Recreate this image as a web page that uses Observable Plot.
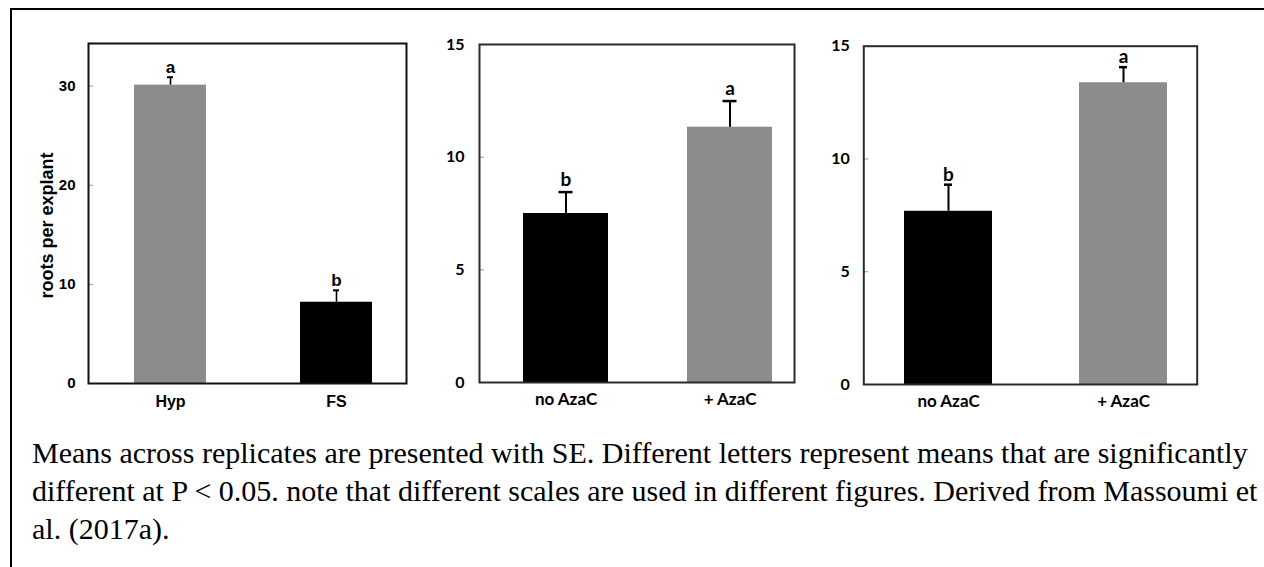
<!DOCTYPE html>
<html>
<head>
<meta charset="utf-8">
<script src="https://cdn.jsdelivr.net/npm/d3@7"></script>
<script src="https://cdn.jsdelivr.net/npm/@observablehq/plot@0.6"></script>
<style>
  html, body { margin: 0; padding: 0; background: #fff; }
  body { width: 1264px; height: 567px; position: relative; overflow: hidden; }
  #box { position: absolute; left: 10px; top: 8px; width: 1300px; height: 600px;
         border-top: 2px solid #000; border-left: 2px solid #000; }
  .panel { position: absolute; top: 0; }
  #caption { position: absolute; left: 32px; top: 434px; width: 1234px;
             font-family: "Liberation Serif", "Times New Roman", serif; font-size: 30px;
             line-height: 38px; color: #000; white-space: normal; }
</style>
</head>
<body>
<div id="box"></div>
<div id="p1" class="panel" style="left:0px"></div>
<div id="p2" class="panel" style="left:420px"></div>
<div id="p3" class="panel" style="left:820px"></div>
<div id="caption">Means across replicates are presented with SE. Different letters represent means that are significantly different at P &lt; 0.05. note that different scales are used in different figures. Derived from Massoumi et al. (2017a).</div>
<script>
// ---- data ----
const p1Categories = ["Hyp", "FS"];
const p1Means = [30.1, 8.2];
const p1SE = [0.8, 1.2];
const p1Letters = ["a", "b"];
const p1Ticks = [0, 10, 20, 30];
const p1YLabel = "roots per explant";

const p2Categories = ["no AzaC", "+ AzaC"];
const p2Means = [7.5, 11.33];
const p2SE = [0.95, 1.16];
const p2Letters = ["b", "a"];
const p2Ticks = [0, 5, 10, 15];

const p3Categories = ["no AzaC", "+ AzaC"];
const p3Means = [7.68, 13.38];
const p3SE = [1.18, 0.69];
const p3Letters = ["b", "a"];
const p3Ticks = [0, 5, 10, 15];

const GRAY = "#8c8c8c";

function panel(o) {
  const data = o.cats.map((c, i) => ({cat: c, mean: o.means[i], se: o.se[i], top: o.means[i] + o.se[i], letter: o.letters[i]}));
  const fw = o.width - o.ml - o.mr;
  const marks = [
    Plot.barY(data, {x: "cat", y: "mean", fill: "cat"}),
    Plot.ruleX(data, {x: "cat", y1: "mean", y2: "top", stroke: "#000", strokeWidth: o.stemW}),
    Plot.tickY(data, {x: "cat", y: "top", stroke: "#000", strokeWidth: o.capW, insetLeft: o.capInset, insetRight: o.capInset}),
    Plot.text(data, {x: "cat", y: "top", text: "letter", dy: -o.letterGap, lineAnchor: "bottom", fontSize: o.letterSize, fontWeight: "bold"}),
    Plot.ruleY(o.ticks, {y: d => d, insetRight: fw - 5, stroke: "#999", strokeWidth: 1}),
    Plot.axisY({ticks: o.ticks, tickSize: 0, tickPadding: o.yPad, tickFormat: d => String(d), fontSize: o.fontSize}),
    Plot.axisX({tickSize: 0, tickPadding: o.xPad, fontSize: o.xSize}),
    Plot.frame({stroke: o.frameColor, strokeWidth: 2})
  ];
  if (o.ylabel) {
    marks.push(Plot.text([o.ylabel], {frameAnchor: "left", text: d => d, rotate: -90, textAnchor: "middle", dx: o.ylabelDx, dy: o.ylabelDy, fontSize: o.ylabelSize, fontWeight: "bold", fontFamily: "Liberation Sans, Arial, sans-serif"}));
  }
  return Plot.plot({
    width: o.width, height: 425,
    marginLeft: o.ml, marginRight: o.mr, marginTop: o.mt, marginBottom: o.mb,
    style: {fontFamily: o.font, fontSize: o.fontSize + "px", fontWeight: "bold", color: "#000", background: "transparent", overflow: "visible"},
    x: {domain: o.cats, paddingInner: o.pi, paddingOuter: o.po, align: o.align, label: null},
    y: {domain: [0, o.ymax], label: null},
    color: {domain: o.cats, range: o.colors},
    marks
  });
}

document.getElementById("p1").append(panel({
  cats: p1Categories, means: p1Means, se: p1SE, letters: p1Letters, ticks: p1Ticks, ymax: 34.3,
  width: 420, ml: 88, mr: 14, mt: 43, mb: 42,
  pi: 0.5676, po: 0.2388, align: 0.579, colors: [GRAY, "#000"], frameColor: "#111",
  stemW: 1.6, capW: 2, capInset: 33, letterGap: 4, letterSize: 17,
  yPad: 13, xPad: 12, xSize: 16, font: "'Liberation Sans Narrow', 'Liberation Sans', Arial, sans-serif", fontSize: 15,
  ylabel: p1YLabel, ylabelDx: -41, ylabelDy: 12, ylabelSize: 18
}));

document.getElementById("p2").append(panel({
  cats: p2Categories, means: p2Means, se: p2SE, letters: p2Letters, ticks: p2Ticks, ymax: 15,
  width: 400, ml: 59, mr: 26, mt: 44, mb: 43,
  pi: 0.484, po: 0.2, align: 0.661, colors: ["#000", GRAY], frameColor: "#2a2a2a",
  stemW: 2, capW: 2.5, capInset: 35.5, letterGap: 6, letterSize: 19,
  yPad: 15, xPad: 10, xSize: 17, font: "Lato, 'Open Sans', sans-serif", fontSize: 16
}));

document.getElementById("p3").append(panel({
  cats: p3Categories, means: p3Means, se: p3SE, letters: p3Letters, ticks: p3Ticks, ymax: 15,
  width: 444, ml: 43.3, mr: 67.3, mt: 45.7, mb: 41,
  pi: 0.4986, po: 0.2, align: 0.583, colors: ["#000", GRAY], frameColor: "#2a2a2a",
  stemW: 2, capW: 2.5, capInset: 40, letterGap: 4, letterSize: 19,
  yPad: 14, xPad: 10, xSize: 17, font: "Lato, 'Open Sans', sans-serif", fontSize: 16
}));
</script>
</body>
</html>
